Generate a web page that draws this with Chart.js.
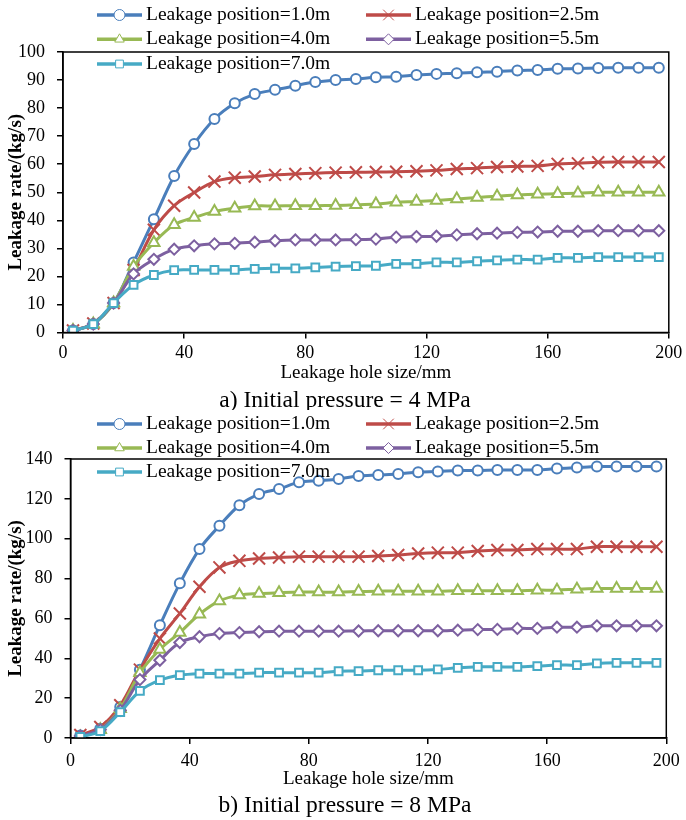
<!DOCTYPE html>
<html><head><meta charset="utf-8">
<script src="https://cdn.jsdelivr.net/npm/chart.js@4.4.1/dist/chart.umd.min.js"></script>
<style>
html,body{margin:0;padding:0;background:#fff;width:686px;height:820px;overflow:hidden}
canvas{position:absolute;left:0}
#ca{top:0}
#cb{top:410px}
</style></head><body>
<canvas id="ca" width="686" height="410"></canvas>
<canvas id="cb" width="686" height="410"></canvas>
<script>
// ---------- data ----------
const holeSize = [3.3, 10, 16.7, 23.3, 30, 36.7, 43.3, 50, 56.7, 63.3, 70, 76.7, 83.3, 90, 96.7,
  103.3, 110, 116.7, 123.3, 130, 136.7, 143.3, 150, 156.7, 163.3, 170, 176.7, 183.3, 190, 196.7];
const seriesNames = ['Leakage position=1.0m', 'Leakage position=2.5m', 'Leakage position=4.0m',
  'Leakage position=5.5m', 'Leakage position=7.0m'];

// a) Initial pressure = 4 MPa
const rateA_1_0 = [0.7, 3, 10.5, 25, 40.4, 55.8, 67.2, 76.1, 81.7, 85, 86.5, 88, 89.3, 90, 90.4,
  91, 91.2, 91.8, 92.2, 92.4, 92.8, 93, 93.4, 93.6, 94, 94.1, 94.3, 94.4, 94.4, 94.4];
const rateA_2_5 = [0.7, 3.2, 10.5, 22.3, 36.6, 45.2, 49.9, 53.8, 55.2, 55.6, 56.2, 56.5, 56.8, 57, 57.1,
  57.2, 57.3, 57.5, 57.8, 58.3, 58.6, 59, 59.2, 59.4, 60.1, 60.3, 60.7, 60.8, 60.8, 60.8];
const rateA_4_0 = [0.7, 3, 10.5, 23.5, 32, 38.4, 41, 43.1, 44.3, 45.1, 45.1, 45.2, 45.2, 45.3, 45.5,
  45.8, 46.4, 46.7, 47.1, 47.6, 48.1, 48.6, 49, 49.3, 49.5, 49.6, 50, 50, 50, 50];
const rateA_5_5 = [0.7, 3, 10.5, 20.9, 26.1, 29.7, 30.9, 31.6, 31.8, 32.2, 32.7, 33, 33, 33, 33.1,
  33.3, 34, 34.2, 34.3, 34.8, 35.2, 35.4, 35.7, 35.8, 36.1, 36.1, 36.3, 36.3, 36.3, 36.3];
const rateA_7_0 = [0.7, 3, 10.5, 17, 20.5, 22.2, 22.3, 22.3, 22.3, 22.7, 22.9, 22.9, 23.2, 23.5, 23.7,
  23.8, 24.5, 24.5, 25, 25, 25.4, 25.7, 26, 26, 26.6, 26.6, 26.9, 26.9, 26.9, 26.9];

// b) Initial pressure = 8 MPa
const rateB_1_0 = [1.3, 4.7, 15.6, 34.3, 56.6, 77.6, 94.8, 106.5, 116.8, 122.4, 125, 128.3, 129.1, 130, 131.5,
  132, 132.5, 133.4, 133.7, 134.2, 134.2, 134.5, 134.5, 134.5, 135.2, 135.7, 136.2, 136.2, 136.2, 136.2];
const rateB_2_5 = [1.5, 5.5, 16.4, 34.3, 49.9, 62.5, 75.9, 85.6, 88.9, 90.1, 90.6, 91, 91, 91, 91,
  91.3, 91.8, 92.6, 93, 93, 93.8, 94.3, 94.3, 94.8, 94.8, 94.8, 96, 96, 96, 96];
const rateB_4_0 = [0.5, 4.2, 14.7, 32.7, 44.4, 52.9, 62.1, 68.8, 71.7, 72.5, 72.9, 73.2, 73.2, 73.2, 73.5,
  73.7, 73.7, 73.7, 73.7, 73.9, 73.9, 73.9, 73.9, 74.2, 74.2, 74.7, 75, 75, 75, 75];
const rateB_5_5 = [1, 4.2, 13.9, 29.3, 39, 47.9, 50.8, 52.4, 52.9, 53.3, 53.6, 53.6, 53.6, 53.6, 53.7,
  53.8, 53.8, 53.8, 53.8, 54.1, 54.4, 54.5, 55, 55, 55.6, 55.6, 56.3, 56.3, 56.3, 56.3];
const rateB_7_0 = [0.5, 3.5, 13, 23.6, 29, 31.5, 32.3, 32.3, 32.3, 32.8, 32.8, 32.8, 32.8, 33.5, 33.6,
  34, 34, 34, 34.4, 35.2, 35.7, 35.7, 35.7, 36.1, 36.6, 36.6, 37.4, 37.7, 37.7, 37.7];

const xTickRange = [0, 200, 40];      // min, max, step
const yTickRangeA = [0, 100, 10];
const yTickRangeB = [0, 140, 20];
const xAxisTitle = 'Leakage hole size/mm';
const yAxisTitle = 'Leakage rate/(kg/s)';
const captionA = 'a) Initial pressure = 4 MPa';
const captionB = 'b) Initial pressure = 8 MPa';

// ---------- styles ----------
const FONT = '"Liberation Serif", "Times New Roman", serif';
const colors = ['#4a7ebb', '#be4b48', '#98b954', '#7d60a0', '#46aac5'];
const styles = ['circle', 'crossRot', 'triangle', 'rectRot', 'rect'];
const radii = [5, 8.5, 6.5, 5.5, 5.5];

const decorPlugin = {
  id: 'decor',
  afterDraw(chart, args, o) {
    const ctx = chart.ctx, a = chart.chartArea;
    ctx.save();
    ctx.strokeStyle = '#000';
    ctx.lineWidth = 1.5;
    ctx.strokeRect(a.left, a.top, a.right - a.left, a.bottom - a.top);
    // legend
    ctx.font = '19.5px ' + FONT;
    ctx.textBaseline = 'middle';
    ctx.textAlign = 'left';
    chart.data.datasets.forEach((ds, i) => {
      const col = i % 2, row = Math.floor(i / 2);
      const x0 = o.lx[col], y = o.ly[row];
      ctx.strokeStyle = ds.borderColor;
      ctx.lineWidth = 3.5;
      ctx.beginPath(); ctx.moveTo(x0, y); ctx.lineTo(x0 + 45, y); ctx.stroke();
      ctx.lineWidth = 1;
      ctx.fillStyle = '#fff';
      Chart.helpers.drawPoint(ctx, {pointStyle: ds.pointStyle, radius: ds.pointStyle === 'crossRot' ? 7.5 : 5.5, borderWidth: 1, rotation: 0}, x0 + 22.5, y);
      ctx.fillStyle = '#000';
      ctx.fillText(ds.label, x0 + 49, y);
    });
    // caption
    ctx.font = '23.5px ' + FONT;
    ctx.textAlign = 'center';
    ctx.fillStyle = '#000';
    ctx.fillText(o.caption, o.capX, o.capY);
    ctx.restore();
  }
};

function makeChart(id, series, yRange, g) {
  const datasets = series.map((vals, i) => ({
    label: seriesNames[i],
    data: holeSize.map((x, k) => ({x: x, y: vals[k]})),
    borderColor: colors[i],
    backgroundColor: '#fff',
    pointBackgroundColor: '#fff',
    pointBorderColor: colors[i],
    pointStyle: styles[i],
    pointRadius: radii[i],
    pointBorderWidth: 2,
    borderWidth: 3,
    tension: 0.35,
    order: 4 - i
  }));
  return new Chart(document.getElementById(id), {
    type: 'line',
    data: {datasets},
    plugins: [decorPlugin],
    options: {
      responsive: false,
      animation: false,
      events: [],
      layout: {padding: {left: 0, top: g.top, right: 686 - g.right, bottom: 0}},
      plugins: {
        legend: {display: false},
        tooltip: {enabled: false},
        decor: {lx: [97, 366], ly: g.ly, caption: g.caption, capX: 345, capY: g.capY}
      },
      scales: {
        x: {
          type: 'linear', min: xTickRange[0], max: xTickRange[1],
          ticks: {stepSize: xTickRange[2], color: '#000', font: {family: FONT, size: 18}, padding: g.xtp, maxRotation: 0},
          grid: {drawOnChartArea: false, drawTicks: true, tickLength: 6, color: '#000', lineWidth: 1.5},
          border: {color: '#000', width: 1.5},
          title: {display: true, text: xAxisTitle, color: '#000', font: {family: FONT, size: 19}, padding: {top: 0, bottom: g.xtitlePad}},
          afterFit(s) { s.height = 410 - g.bottom; }
        },
        y: {
          min: yRange[0], max: yRange[1],
          ticks: {stepSize: yRange[2], color: '#000', font: {family: FONT, size: 18}, padding: 12},
          grid: {drawOnChartArea: false, drawTicks: true, tickLength: 6, color: '#000', lineWidth: 1.5},
          border: {color: '#000', width: 1.5},
          title: {display: true, text: yAxisTitle, color: '#000', font: {family: FONT, size: 19, weight: 'bold'}, padding: {top: 4.6, bottom: 0}},
          afterFit(s) { s.width = g.left; }
        }
      }
    }
  });
}

makeChart('ca', [rateA_1_0, rateA_2_5, rateA_4_0, rateA_5_5, rateA_7_0], yTickRangeA,
  {left: 63, right: 669.5, top: 52, bottom: 332.5, ly: [15, 39.3, 64], caption: captionA, capY: 401, xtp: 3.7, xtitlePad: 25.6});
makeChart('cb', [rateB_1_0, rateB_2_5, rateB_4_0, rateB_5_5, rateB_7_0], yTickRangeB,
  {left: 70.5, right: 670.5, top: 49, bottom: 328, ly: [14, 38, 62], caption: captionB, capY: 396, xtp: 6.2, xtitlePad: 29.6});
</script>
</body></html>
